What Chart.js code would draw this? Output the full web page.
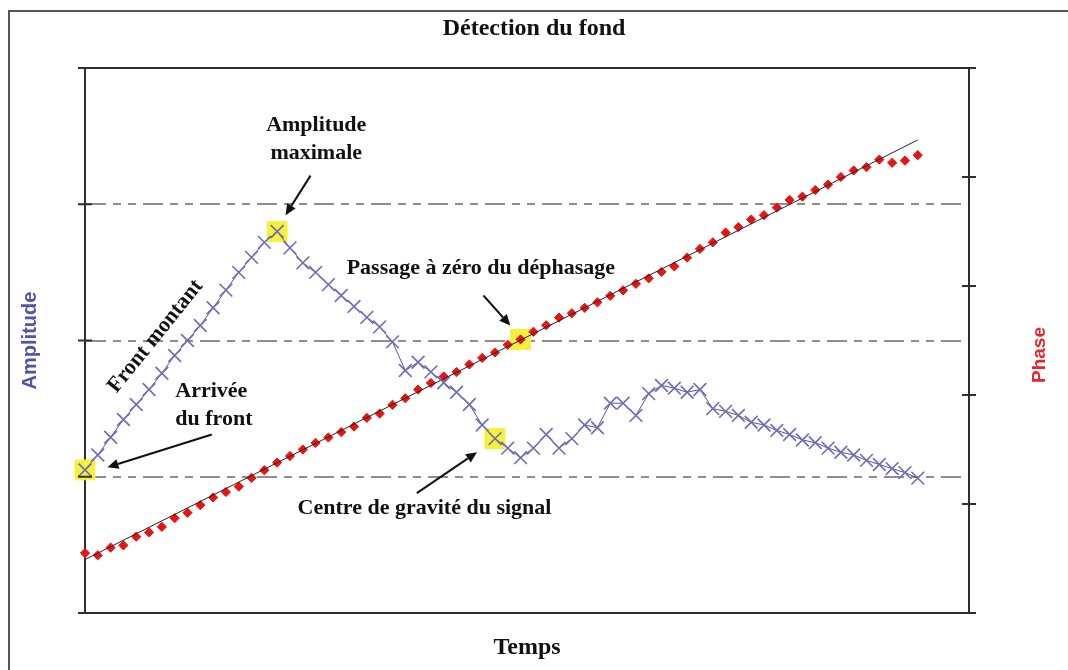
<!DOCTYPE html>
<html>
<head>
<meta charset="utf-8">
<script src="https://cdn.jsdelivr.net/npm/chart.js@4.4.0/dist/chart.umd.min.js"></script>
<style>
  html, body { margin: 0; padding: 0; background: #fff; }
  #wrap { width: 1068px; height: 670px; }
</style>
</head>
<body>
<div id="wrap"><canvas id="chart"></canvas></div>
<script>
// Amplitude (left axis) - one value per sample
const amplitude = [
    1.05, 1.16, 1.29, 1.42, 1.53, 1.64, 1.76, 1.89, 2.00, 2.11,
    2.24, 2.37, 2.50, 2.61, 2.72, 2.80, 2.68, 2.57, 2.50, 2.41,
    2.33, 2.25, 2.17, 2.10, 1.99, 1.78, 1.84, 1.77, 1.69, 1.62,
    1.53, 1.38, 1.28, 1.21, 1.14, 1.21, 1.31, 1.21, 1.28, 1.38,
    1.36, 1.54, 1.54, 1.45, 1.61, 1.67, 1.65, 1.62, 1.64, 1.50,
    1.48, 1.45, 1.40, 1.38, 1.34, 1.31, 1.27, 1.25, 1.21, 1.18,
    1.16, 1.12, 1.09, 1.06, 1.03, 0.99
];

// Phase (right axis)
const phase = [
    0.55, 0.53, 0.60, 0.62, 0.70, 0.74, 0.79, 0.87, 0.92, 0.99,
    1.06, 1.11, 1.16, 1.24, 1.31, 1.38, 1.44, 1.50, 1.56, 1.61,
    1.66, 1.71, 1.79, 1.83, 1.91, 1.97, 2.05, 2.11, 2.17, 2.21,
    2.28, 2.34, 2.39, 2.46, 2.51, 2.58, 2.64, 2.71, 2.75, 2.80,
    2.85, 2.91, 2.96, 3.02, 3.07, 3.13, 3.18, 3.26, 3.34, 3.40,
    3.49, 3.54, 3.61, 3.65, 3.72, 3.79, 3.82, 3.88, 3.93, 4.00,
    4.06, 4.09, 4.16, 4.13, 4.15, 4.20
];

// linear trend of the phase
const trendX = [0, 65];
const trendPhase = [0.49, 4.34];

// highlighted samples (yellow squares)
const ampMarks = [0, 15, 32];
const phaseMarks = [34];

// axis ranges / ticks
const xRange = [0, 69];
const ampTicks = [0, 1, 2, 3, 4];
const phaseTicks = [0, 1, 2, 3, 4, 5];

// annotations, placed in data units (x = sample, y = amplitude)
const notes = [
    { lines: ['Amplitude', 'maximale'], x: 18.05, y: 3.58 },
    { lines: ['Passage à zéro du déphasage'], x: 30.9, y: 2.53 },
    { lines: ['Arrivée', 'du front'], x: 7.05, y: 1.63, align: 'left' },
    { lines: ['Centre de gravité du signal'], x: 26.5, y: 0.77 }
];
const arrows = [
    { from: [17.6, 3.21], to: [15.65, 2.92] },
    { from: [31.1, 2.33], to: [33.2, 2.11] },
    { from: [9.9, 1.31], to: [1.75, 1.07] },
    { from: [25.9, 0.88], to: [30.6, 1.18] }
];
const slopeNote = { text: 'Front montant', x: 5.5, y: 2.03 };

const serif = "'Liberation Serif', 'Times New Roman', serif";
const sans = "'Liberation Sans', Arial, sans-serif";
const axisColor = '#2e2e2e';

const toXY = (arr) => arr.map((v, i) => ({ x: i, y: v }));

const decor = {
    id: 'decor',
    beforeDraw(chart) {
        const ctx = chart.ctx;
        ctx.save();
        ctx.fillStyle = '#ffffff';
        ctx.fillRect(0, 0, chart.width, chart.height);
        // outer frame (only top and left visible)
        ctx.strokeStyle = '#555555';
        ctx.lineWidth = 2;
        ctx.beginPath();
        ctx.moveTo(chart.width, 11);
        ctx.lineTo(9, 11);
        ctx.lineTo(9, chart.height);
        ctx.stroke();
        ctx.restore();
    },
    afterDraw(chart) {
        const ctx = chart.ctx;
        const ca = chart.chartArea;
        const sx = chart.scales.x, sy = chart.scales.y, sy1 = chart.scales.y1;
        ctx.save();

        // top border + tick marks across both vertical axes
        ctx.strokeStyle = axisColor;
        ctx.lineWidth = 2;
        ctx.beginPath();
        ctx.moveTo(ca.left, ca.top);
        ctx.lineTo(ca.right, ca.top);
        ampTicks.forEach(v => {
            const y = sy.getPixelForValue(v);
            ctx.moveTo(ca.left - 7, y);
            ctx.lineTo(ca.left + 7, y);
        });
        phaseTicks.forEach(v => {
            const y = sy1.getPixelForValue(v);
            ctx.moveTo(ca.right - 7, y);
            ctx.lineTo(ca.right + 7, y);
        });
        ctx.stroke();

        // right axis title, reading bottom to top
        ctx.save();
        ctx.translate(1040, 355);
        ctx.rotate(-Math.PI / 2);
        ctx.fillStyle = '#e8262a';
        ctx.font = 'bold 19px ' + sans;
        ctx.textAlign = 'center';
        ctx.textBaseline = 'middle';
        ctx.fillText('Phase', 0, 0);
        ctx.restore();

        // annotation texts
        ctx.fillStyle = '#111111';
        ctx.font = 'bold 22px ' + serif;
        ctx.textBaseline = 'middle';
        notes.forEach(n => {
            ctx.textAlign = n.align || 'center';
            n.lines.forEach((t, k) => {
                ctx.fillText(t, sx.getPixelForValue(n.x), sy.getPixelForValue(n.y) + k * 28);
            });
        });

        // rotated label along the rising edge
        const a0 = { x: sx.getPixelForValue(0), y: sy.getPixelForValue(amplitude[0]) };
        const a1 = { x: sx.getPixelForValue(15), y: sy.getPixelForValue(amplitude[15]) };
        ctx.save();
        ctx.translate(sx.getPixelForValue(slopeNote.x), sy.getPixelForValue(slopeNote.y));
        ctx.rotate(Math.atan2(a1.y - a0.y, a1.x - a0.x));
        ctx.textAlign = 'center';
        ctx.fillText(slopeNote.text, 0, 0);
        ctx.restore();

        // arrows
        ctx.strokeStyle = '#111111';
        ctx.fillStyle = '#111111';
        ctx.lineWidth = 2;
        arrows.forEach(a => {
            const x0 = sx.getPixelForValue(a.from[0]), y0 = sy.getPixelForValue(a.from[1]);
            const x1 = sx.getPixelForValue(a.to[0]), y1 = sy.getPixelForValue(a.to[1]);
            const ang = Math.atan2(y1 - y0, x1 - x0);
            const hl = 11, hw = 5;
            const bx = x1 - hl * Math.cos(ang), by = y1 - hl * Math.sin(ang);
            ctx.beginPath();
            ctx.moveTo(x0, y0);
            ctx.lineTo(bx, by);
            ctx.stroke();
            ctx.beginPath();
            ctx.moveTo(x1, y1);
            ctx.lineTo(bx + hw * Math.sin(ang), by - hw * Math.cos(ang));
            ctx.lineTo(bx - hw * Math.sin(ang), by + hw * Math.cos(ang));
            ctx.closePath();
            ctx.fill();
        });

        ctx.restore();
    }
};

new Chart(document.getElementById('chart'), {
    type: 'line',
    data: {
        datasets: [
            {
                label: 'Amplitude',
                data: toXY(amplitude),
                yAxisID: 'y',
                borderColor: '#55559f',
                borderWidth: 1,
                pointStyle: 'crossRot',
                pointRadius: 9,
                pointBorderColor: '#6c6cb8',
                pointBorderWidth: 1.6,
                fill: false,
                tension: 0,
                clip: false,
                order: 1
            },
            {
                label: 'Linéaire (Phase)',
                data: trendX.map((x, i) => ({ x: x, y: trendPhase[i] })),
                yAxisID: 'y1',
                borderColor: '#222222',
                borderWidth: 1,
                pointRadius: 0,
                fill: false,
                clip: false,
                order: 2
            },
            {
                label: 'Phase',
                data: toXY(phase),
                yAxisID: 'y1',
                showLine: false,
                pointStyle: 'rectRot',
                pointRadius: 4.6,
                pointBackgroundColor: '#e81414',
                pointBorderColor: '#e81414',
                pointBorderWidth: 1,
                clip: false,
                order: 3
            },
            {
                label: 'Repères amplitude',
                data: ampMarks.map(i => ({ x: i, y: amplitude[i] })),
                yAxisID: 'y',
                showLine: false,
                pointStyle: 'rect',
                pointRadius: 14,
                pointBackgroundColor: '#f4f03c',
                pointBorderColor: '#f4f03c',
                pointBorderWidth: 1,
                clip: false,
                order: 4
            },
            {
                label: 'Repère phase',
                data: phaseMarks.map(i => ({ x: i, y: phase[i] })),
                yAxisID: 'y1',
                showLine: false,
                pointStyle: 'rect',
                pointRadius: 14,
                pointBackgroundColor: '#f4f03c',
                pointBorderColor: '#f4f03c',
                pointBorderWidth: 1,
                clip: false,
                order: 5
            }
        ]
    },
    options: {
        responsive: true,
        maintainAspectRatio: false,
        animation: false,
        events: [],
        layout: { padding: 0 },
        plugins: {
            legend: { display: false },
            tooltip: { enabled: false },
            title: {
                display: true,
                text: 'Détection du fond',
                color: '#111111',
                font: { family: serif, size: 24, weight: 'bold' },
                padding: { top: 14, bottom: 25.2 }
            }
        },
        scales: {
            x: {
                type: 'linear',
                min: xRange[0],
                max: xRange[1],
                grid: { display: false },
                ticks: { display: false },
                border: { color: axisColor, width: 2 },
                title: {
                    display: true,
                    text: 'Temps',
                    color: '#111111',
                    font: { family: serif, size: 24, weight: 'bold' },
                    padding: { bottom: 8 }
                },
                afterFit: (s) => { s.height = 57; }
            },
            y: {
                position: 'left',
                min: ampTicks[0],
                max: ampTicks[ampTicks.length - 1],
                ticks: { display: false, stepSize: 1 },
                grid: {
                    color: (c) => (c.tick && (c.tick.value === 1 || c.tick.value === 2 || c.tick.value === 3)) ? '#8e8e8e' : 'rgba(0,0,0,0)',
                    lineWidth: 2,
                    drawTicks: false
                },
                border: { color: axisColor, width: 2, dash: [20, 7, 8, 7, 8, 7] },
                title: {
                    display: true,
                    text: 'Amplitude',
                    color: '#5353a8',
                    font: { family: sans, size: 20, weight: 'bold' },
                    padding: { top: 18 }
                },
                afterFit: (s) => { s.width = 85; }
            },
            y1: {
                position: 'right',
                min: phaseTicks[0],
                max: phaseTicks[phaseTicks.length - 1],
                ticks: { display: false, stepSize: 1 },
                grid: { drawOnChartArea: false, drawTicks: false },
                border: { color: axisColor, width: 2 },
                afterFit: (s) => { s.width = 99; }
            }
        }
    },
    plugins: [decor]
});
</script>
</body>
</html>
